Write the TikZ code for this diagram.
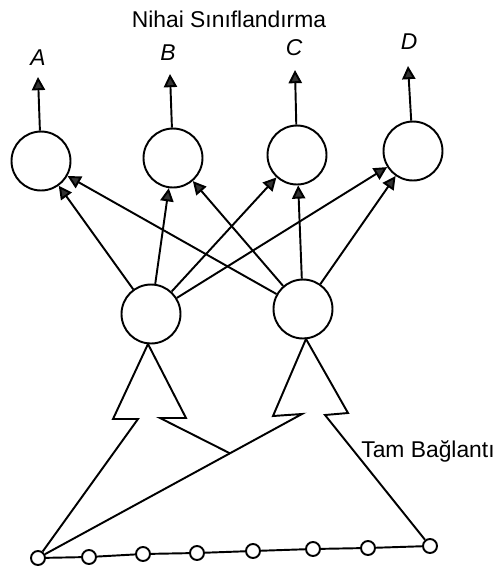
\documentclass[tikz,border=0pt]{standalone}
\usepackage{fontspec}
\setmainfont{Liberation Sans}
\usetikzlibrary{arrows.meta,calc}

\tikzset{
  unit/.style={draw, circle, line width=1.1pt, minimum size=1.18cm, inner sep=0pt},
  inunit/.style={draw, circle, line width=1.1pt, minimum size=0.28cm, inner sep=0pt},
  link/.style={line width=1.1pt, -{Triangle[length=7.5pt,width=7.5pt,fill=black!80]}},
  wire/.style={line width=1.1pt, line join=miter},
  cls/.style={font=\fontsize{13}{15}\selectfont\itshape, inner sep=0pt},
  caption/.style={font=\fontsize{13}{15}\selectfont, inner sep=0pt}
}

\begin{document}
\begin{tikzpicture}[x=0.02cm, y=-0.02cm]
\useasboundingbox (0,0) rectangle (498,569);

% title
\node[caption] (title) at (229,19) {Nihai Sınıflandırma};

% output layer
\node[unit] (oA) at (41,161) {};
\node[unit] (oB) at (173,158) {};
\node[unit] (oC) at (297,155) {};
\node[unit] (oD) at (413,151) {};

% class labels
\node[cls] (lA) at (38,58) {A};
\node[cls] (lB) at (168,53) {B};
\node[cls] (lC) at (294,48) {C};
\node[cls] (lD) at (409,42) {D};

\coordinate (tA) at (38,77);
\coordinate (tB) at (170,74);
\coordinate (tC) at (295,70);
\coordinate (tD) at (408,66);
\draw[link] (oA) -- (tA);
\draw[link] (oB) -- (tB);
\draw[link] (oC) -- (tC);
\draw[link] (oD) -- (tD);

% hidden layer
\node[unit] (h1) at (151,314) {};
\node[unit] (h2) at (303,309) {};

\foreach \o in {oA,oB,oC,oD} {
  \draw[link] (h1) -- (\o);
  \draw[link] (h2) -- (\o);
}

% input layer
\node[inunit] (i1) at (38,558) {};
\node[inunit] (i2) at (89,557) {};
\node[inunit] (i3) at (143,554) {};
\node[inunit] (i4) at (197,553) {};
\node[inunit] (i5) at (253,551) {};
\node[inunit] (i6) at (313,549) {};
\node[inunit] (i7) at (368,548) {};
\node[inunit] (i8) at (430,546) {};
\draw[wire] (i1) -- (i2) -- (i3) -- (i4) -- (i5) -- (i6) -- (i7) -- (i8);

% receptive field of the right hidden unit
\coordinate (rApex) at (306,339);
\coordinate (rL) at (273,416);
\coordinate (rLi) at (302,414);
\coordinate (rR) at (348,413);
\coordinate (rRi) at (325,415);
\draw[wire] (i1) -- (rLi) -- (rL) -- (rApex) -- (rR) -- (rRi) -- (i8);

% receptive field of the left hidden unit
\coordinate (lApex) at (148,344);
\coordinate (lL) at (113,419);
\coordinate (lLi) at (138,419);
\coordinate (lR) at (186,418);
\coordinate (lRi) at (160,418);
\coordinate (lJoin) at ($(rLi)!0.273!(i1)$);
\draw[wire] (i1) -- (lLi) -- (lL) -- (lApex) -- (lR) -- (lRi) -- (lJoin);

% connection label
\node[caption, anchor=west] (full) at (361,451) {Tam Bağlantı};
\end{tikzpicture}
\end{document}
